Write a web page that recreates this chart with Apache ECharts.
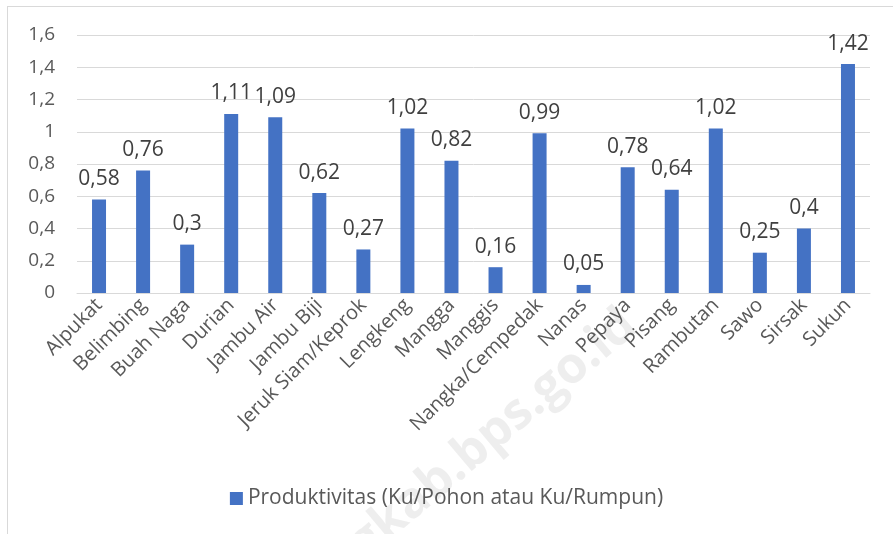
<!DOCTYPE html>
<html>
<head>
<meta charset="utf-8">
<script src="https://cdn.jsdelivr.net/npm/echarts@6/dist/echarts.min.js"></script>
<style>
    html, body { margin: 0; padding: 0; background: #fff; }
    .frame { position: absolute; left: 7px; top: 6px; width: 900px; height: 540px; border: 1px solid #d9d9d9; box-sizing: border-box; }
    #chart { position: absolute; left: 0; top: 0; width: 893px; height: 534px; }
</style>
</head>
<body>
<div class="frame"></div>
<div id="chart"></div>
<script>
    const categories = ['Alpukat', 'Belimbing', 'Buah Naga', 'Durian', 'Jambu Air', 'Jambu Biji', 'Jeruk Siam/Keprok',
        'Lengkeng', 'Mangga', 'Manggis', 'Nangka/Cempedak', 'Nanas', 'Pepaya', 'Pisang', 'Rambutan', 'Sawo', 'Sirsak', 'Sukun']
    const produktivitas = [0.58, 0.76, 0.3, 1.11, 1.09, 0.62, 0.27, 1.02, 0.82, 0.16, 0.99, 0.05, 0.78, 0.64, 1.02, 0.25, 0.4, 1.42]
    const seriesName = 'Produktivitas (Ku/Pohon atau Ku/Rumpun)'

    const comma = v => String(v).replace('.', ',')
    const font = '"Open Sans", "Noto Sans", sans-serif'

    const chart = echarts.init(document.getElementById('chart'))
    chart.setOption({
        animation: false,
        textStyle: { fontFamily: font },
        grid: { left: 77, right: 23, top: 35, bottom: 241 },
        legend: {
            bottom: 20,
            left: 'center',
            itemWidth: 13,
            itemHeight: 13,
            itemGap: 6,
            icon: 'rect',
            textStyle: { fontSize: 21, color: '#595959', fontFamily: font },
            data: [seriesName]
        },
        xAxis: {
            type: 'category',
            data: categories,
            axisLine: { lineStyle: { color: '#d9d9d9' } },
            axisTick: { show: false },
            axisLabel: {
                rotate: 45,
                interval: 0,
                margin: 9,
                fontSize: 20,
                color: '#595959',
                fontFamily: font
            }
        },
        yAxis: {
            type: 'value',
            min: 0,
            max: 1.6,
            interval: 0.2,
            axisLine: { show: false },
            axisTick: { show: false },
            splitLine: { lineStyle: { color: '#d9d9d9' } },
            axisLabel: {
                fontSize: 19,
                color: '#595959',
                margin: 22,
                fontFamily: font,
                formatter: v => comma(Math.round(v * 10) / 10)
            }
        },
        graphic: [{
            type: 'text',
            left: 300,
            top: 300,
            rotation: 0.7,
            silent: true,
            z: -1,
            style: {
                text: 'ergkab.bps.go.id',
                fontSize: 50,
                fontWeight: 'bold',
                fontFamily: font,
                fill: 'rgba(200,200,200,0.3)',
                x: 300,
                y: 530
            }
        }],
        series: [{
            name: seriesName,
            type: 'bar',
            data: produktivitas,
            barWidth: 14,
            itemStyle: { color: '#4472c4' },
            label: {
                show: true,
                position: 'top',
                distance: 10,
                fontSize: 21,
                color: '#404040',
                fontFamily: font,
                formatter: p => comma(p.value)
            }
        }]
    })
</script>
</body>
</html>
